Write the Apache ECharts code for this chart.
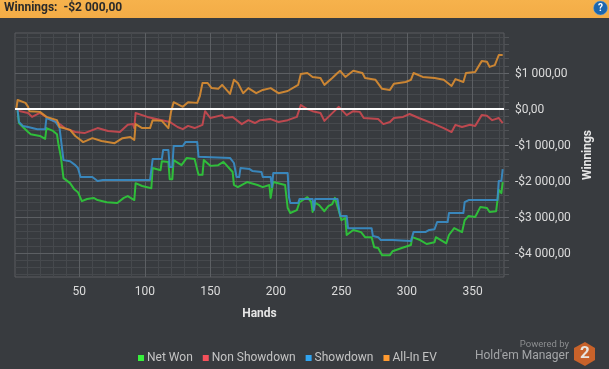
<!DOCTYPE html>
<html><head><meta charset="utf-8">
<style>html,body{margin:0;padding:0;background:#383b3f}#c{width:609px;height:369px}</style>
<script src="https://cdn.jsdelivr.net/npm/echarts@6/dist/echarts.min.js"></script>
</head><body><div id="c"></div>
<script>
const xMajorTicks=[50,100,150,200,250,300,350];
const xMinorTicks=[10,20,30,40,60,70,80,90,110,120,130,140,160,170,180,190,210,220,230,240,260,270,280,290,310,320,330,340,360,370];
const yMajorTicks=[-4000,-3000,-2000,-1000,0,1000];
const yMinorTicks=[-4600,-4400,-4200,-3800,-3600,-3400,-3200,-2800,-2600,-2400,-2200,-1800,-1600,-1400,-1200,-800,-600,-400,-200,200,400,600,800,1200,1400,1600,1800,2000];
const seriesNames=['Net Won','Non Showdown','Showdown','All-In EV'];

const netWonHands=[3,4,7,11,13,20,24,25,30,33,34,36,38,43,46,49,52,56,61,64,71,79,84,87,92,93,98,105,106,112,113,118,119,121,122,128,132,138,141,144,145,150,156,160,167,168,171,178,186,190,195,196,198,207,209,211,216,218,224,227,228,230,233,237,240,243,245,246,249,250,253,254,259,265,268,273,275,278,281,287,289,296,303,304,310,315,321,322,330,332,336,342,344,347,352,356,361,363,368,370,372,373];
const netWonValues=[-30,-390,-500,-640,-700,-750,-830,-530,-610,-700,-950,-1330,-1920,-2060,-2220,-2310,-2560,-2500,-2470,-2530,-2590,-2610,-2470,-2420,-2530,-2060,-2140,-2200,-1640,-1700,-1450,-1470,-1950,-1950,-1420,-1560,-1360,-1390,-1830,-1830,-1420,-1580,-1560,-1470,-1750,-2110,-2170,-2030,-2110,-2170,-2110,-2470,-2030,-2110,-2750,-2890,-2810,-2590,-2450,-2590,-2860,-2610,-2670,-2840,-2700,-2640,-2470,-2470,-2950,-3090,-3030,-3500,-3360,-3420,-3560,-3560,-3840,-3860,-4060,-4060,-3950,-3860,-3780,-3560,-3640,-3750,-3700,-3560,-3730,-3500,-3310,-3420,-3090,-2970,-3000,-2720,-2750,-2860,-2840,-2250,-2340,-2030];

const nonShowdownHands=[3,5,11,14,20,26,34,39,47,54,64,72,81,87,91,92,93,102,113,119,125,129,133,138,144,146,150,159,161,167,174,179,184,188,196,202,209,216,219,224,228,234,237,244,248,254,259,264,267,278,282,287,290,297,302,309,321,328,334,337,342,348,352,357,361,365,370,373];
const nonShowdownValues=[-30,-60,-110,-220,-110,-250,-390,-530,-640,-670,-530,-610,-640,-440,-420,-530,-110,-220,-310,-360,-500,-560,-470,-530,-440,-60,-250,-170,-250,-220,-420,-310,-390,-310,-280,-360,-310,-220,110,0,-60,-110,-330,-80,60,-170,-60,-80,-250,-280,-420,-360,-250,-220,-140,-250,-420,-530,-640,-440,-500,-440,-470,-170,-190,-310,-250,-390];

const showdownHands=[3,4,7,11,18,24,25,32,35,38,43,47,49,51,60,64,68,104,106,113,114,118,119,121,122,129,131,140,141,165,168,170,172,173,180,182,189,190,196,197,198,209,210,211,217,218,228,229,230,247,249,254,255,273,274,278,280,289,290,303,305,314,315,317,321,323,331,332,343,344,347,369,370,372,373];
const showdownValues=[-30,-360,-470,-500,-560,-560,-250,-360,-530,-1420,-1450,-1560,-1640,-1890,-1890,-2000,-1970,-1970,-1390,-1390,-1140,-1140,-1610,-1610,-1030,-1030,-920,-920,-1330,-1360,-1500,-1890,-1890,-1640,-1670,-1720,-1750,-1890,-1890,-2170,-1780,-1780,-2450,-2610,-2610,-2500,-2500,-2810,-2500,-2500,-2970,-2970,-3310,-3310,-3530,-3560,-3640,-3640,-3670,-3670,-3420,-3420,-3450,-3360,-3340,-3140,-3140,-2890,-2890,-2590,-2530,-2530,-2000,-2000,-1670];

const allInEvHands=[2,3,9,11,12,20,25,33,35,43,47,51,53,60,67,77,83,89,92,93,98,104,106,113,118,120,122,129,133,140,142,144,148,151,156,159,165,168,171,175,179,185,190,196,202,209,217,219,224,228,234,237,243,247,249,253,259,266,268,276,281,287,290,299,303,305,312,321,328,334,337,343,345,352,357,361,363,367,370,373];
const allInEvValues=[0,250,170,60,-60,-80,-220,-310,-500,-580,-750,-860,-920,-810,-890,-950,-810,-780,-860,-420,-530,-530,-310,-330,-530,-80,190,60,190,170,360,720,720,580,560,670,420,810,720,440,580,440,530,580,440,500,670,970,1000,890,860,670,860,1000,1060,890,1060,1000,860,810,560,530,700,750,810,1000,890,860,810,640,830,750,1000,1030,1330,1310,1170,1220,1500,1500];

const zip=(a,b)=>a.map((h,i)=>[h,b[i]]);
const lineColors=['#2fc93a','#c94a50','#3a8dc6','#d88c32'];
const legendColors=['#37f03c','#f5505a','#30a4f0','#ff9a30'];
const axisFont='Roboto,"Open Sans",sans-serif';
const xRange={min:1,max:374}, yRange={min:-4667,max:2111};
const fmt=v=>{const a=Math.abs(v);const s=a===0?'0':String(a).replace(/\B(?=(\d{3})+$)/g,' ');return (v<0?'-':'')+'$'+s+',00';};
const majorLine={color:'#5c5f63',width:1,type:'solid'}, minorLine={color:'#46494d',width:1,type:'solid'};
const gridLines=[
  ...xMinorTicks.map(v=>({xAxis:v,lineStyle:minorLine})),
  ...yMinorTicks.map(v=>({yAxis:v,lineStyle:minorLine})),
  ...xMajorTicks.map(v=>({xAxis:v,lineStyle:majorLine})),
  ...yMajorTicks.map(v=>({yAxis:v,lineStyle:majorLine}))
];
const chart=echarts.init(document.getElementById('c'));
const mk=(name,i,hands,vals,extra)=>Object.assign({name,type:'line',xAxisIndex:0,yAxisIndex:0,data:zip(hands,vals),showSymbol:false,symbol:'none',lineStyle:{color:lineColors[i],width:2,join:'round',opacity:0.92},itemStyle:{color:lineColors[i]},animation:false,z:3+i},extra||{});
chart.setOption({
  backgroundColor:'#383b3f',animation:false,
  title:{left:4,top:2,padding:0,text:'{a|Winnings:  -}{b|$2 000,00}',textStyle:{rich:{a:{fontFamily:axisFont,fontSize:12,color:'#2a2a2a'},b:{fontFamily:axisFont,fontSize:12,fontWeight:'bold',color:'#2a2a2a'}}},z:10},
  grid:{left:15,right:105,top:33,bottom:92,show:true,borderColor:'#5a5d60',borderWidth:1,backgroundColor:'transparent'},
  legend:{left:133,top:347,itemWidth:6,itemHeight:6,itemGap:10,icon:'rect',
    textStyle:{color:'#c4c4c4',fontFamily:axisFont,fontSize:12,padding:[0,0,0,-2]},
    data:seriesNames.map((n,i)=>({name:n,icon:'rect',itemStyle:{color:legendColors[i]}}))},
  xAxis:[
    {type:'value',position:'bottom',...xRange,name:'Hands',nameLocation:'middle',nameGap:31,nameTextStyle:{color:'#e6e6e6',fontFamily:axisFont,fontSize:12,fontWeight:'bold'},
     axisLine:{show:false},axisTick:{show:true,length:4,customValues:xMajorTicks,lineStyle:{color:'#62656a'}},
     axisLabel:{color:'#dcdcdc',fontFamily:axisFont,fontSize:12,margin:9,customValues:xMajorTicks,hideOverlap:false},
     splitLine:{show:false}},
    {type:'value',position:'bottom',...xRange,axisLine:{show:false},axisTick:{show:true,length:4,customValues:xMinorTicks,lineStyle:{color:'#505357'}},
     axisLabel:{show:false},splitLine:{show:false}}
  ],
  yAxis:[
    {type:'value',position:'right',...yRange,name:'Winnings',nameLocation:'middle',nameRotate:90,nameGap:75,nameTextStyle:{color:'#e6e6e6',fontFamily:axisFont,fontSize:12,fontWeight:'bold'},
     axisLine:{show:false},axisTick:{show:true,length:5,customValues:yMajorTicks,lineStyle:{color:'#62656a'}},
     axisLabel:{color:'#dcdcdc',fontFamily:axisFont,fontSize:12,margin:11,align:'left',verticalAlign:'top',padding:[-5,0,0,0],customValues:yMajorTicks,formatter:fmt},
     splitLine:{show:false}},
    {type:'value',position:'right',...yRange,axisLine:{show:false},axisTick:{show:true,length:5,customValues:yMinorTicks,lineStyle:{color:'#505357'}},
     axisLabel:{show:false},splitLine:{show:false}}
  ],
  series:[
    {name:'grid',type:'line',data:[],xAxisIndex:0,yAxisIndex:0,z:1,silent:true,markLine:{silent:true,symbol:'none',label:{show:false},data:gridLines,animation:false,z:1}},
    mk(seriesNames[0],0,netWonHands,netWonValues),
    mk(seriesNames[1],1,nonShowdownHands,nonShowdownValues),
    mk(seriesNames[2],2,showdownHands,showdownValues),
    mk(seriesNames[3],3,allInEvHands,allInEvValues,{markLine:{silent:true,symbol:'none',label:{show:false},lineStyle:{color:'#ffffff',width:2,type:'solid'},data:[{yAxis:0}],animation:false,z:20}})
  ],
  graphic:[
    {type:'rect',z:-1,shape:{x:0,y:0,width:609,height:18},style:{fill:new echarts.graphic.LinearGradient(0,0,0,1,[{offset:0,color:'#f6b24c'},{offset:1,color:'#f3ac46'}])},silent:true},
    {type:'circle',shape:{cx:600.5,cy:8,r:7},style:{fill:'#1c66ad',stroke:'#6fa8dc',lineWidth:0.5},silent:true},
    {type:'text',style:{x:600.5,y:8,text:'?',fill:'#ffffff',font:'bold 10px Roboto',textAlign:'center',textVerticalAlign:'middle'},silent:true},
    {type:'text',style:{x:569,y:345,text:'Powered by',fill:'#8c8e90',font:'9.5px Roboto',textAlign:'right',textVerticalAlign:'middle'},silent:true},
    {type:'text',style:{x:569,y:356,text:"Hold'em Manager",fill:'#a4a6a8',font:'12px Roboto',textAlign:'right',textVerticalAlign:'middle'},silent:true},
    {type:'polygon',shape:{points:[[585,342],[595,348],[595,360],[585,366],[574,360],[574,348]]},style:{fill:'#c8622a'},silent:true},
    {type:'text',style:{x:585,y:354,text:'2',fill:'#e8e4de',font:'bold 17px Roboto',textAlign:'center',textVerticalAlign:'middle'},silent:true}
  ]
});
</script></body></html>
